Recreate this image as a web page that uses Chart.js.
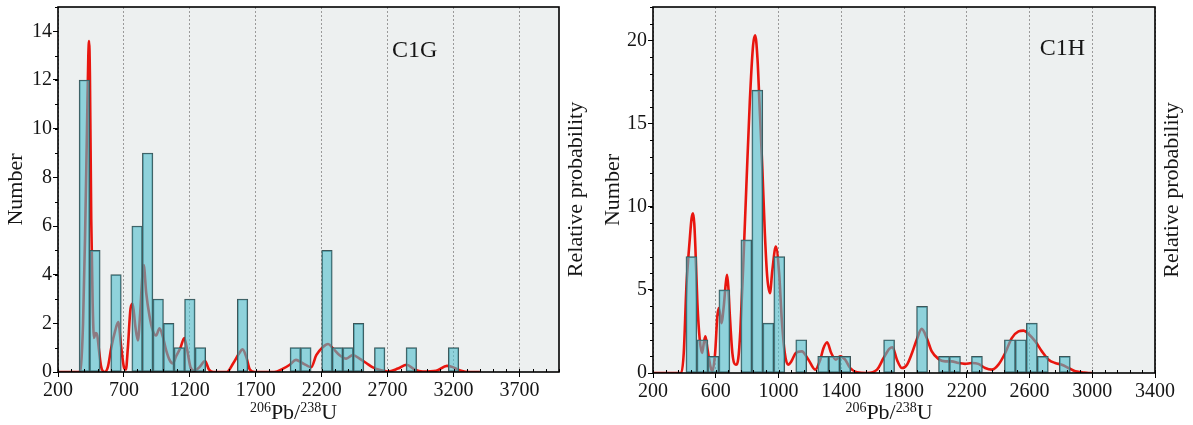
<!DOCTYPE html>
<html><head><meta charset="utf-8">
<script src="https://cdn.jsdelivr.net/npm/chart.js@4.4.1/dist/chart.umd.min.js"></script>
<style>
html,body{margin:0;padding:0;background:#fff;}
#wrap{position:relative;width:1193px;height:425px;overflow:hidden;background:#fff;}
canvas{position:absolute;top:0;}
</style></head><body>
<div id="wrap">
<canvas id="c1" width="597" height="425" style="left:0"></canvas>
<canvas id="c2" width="596" height="425" style="left:597px"></canvas>
</div>
<script>
// ---------- C1G ----------
const binCentersG = [400,480,560,640,720,800,880,960,1040,1120,1200,1280,1360,1440,1520,1600,1680,1760,1840,1920,2000,2080,2160,2240,2320,2400,2480,2560,2640,2720,2800,2880,2960,3040,3120,3200];
const countsG     = [12,5,0,4,0,6,9,3,2,1,3,1,0,0,0,3,0,0,0,0,1,1,0,5,1,1,2,0,1,0,0,1,0,0,0,1];
const curveXG = [200,300,360,375,390,405,420,430,436,442,452,463,473,486,498,513,528,553,578,604,634,657,680,700,715,730,750,766,786,806,823,838,850,869,894,919,944,970,995,1020,1046,1071,1096,1129,1158,1180,1205,1235,1273,1315,1345,1380,1480,1528,1573,1600,1629,1655,1692,1840,1907,1958,2005,2050,2083,2121,2159,2210,2248,2286,2336,2386,2437,2487,2538,2588,2651,2702,2778,2845,2904,2967,3068,3150,3194,3258,3320,3400];
const curveYG = [0,0,0,0.3,2,5.5,10,13,13.6,12.2,6.3,2.8,1.4,1.6,1.5,0.8,0.2,0,0.2,1.0,1.7,2.05,1.0,0.2,0.1,1.0,2.6,2.8,1.9,1.3,2.4,3.8,4.4,3.25,2.3,1.7,1.5,1.8,1.45,0.9,0.5,0.35,0.65,1.0,1.4,0.9,0.2,0.05,0.2,0.45,0.1,0,0,0.35,0.76,0.93,0.6,0.1,0,0,0.14,0.3,0.5,0.38,0.28,0.2,0.69,1.03,1.15,0.97,0.69,0.55,0.7,0.55,0.37,0.19,0.07,0.02,0.14,0.3,0.1,0.02,0.05,0.25,0.2,0.05,0,0];
const xTicksG = [200,700,1200,1700,2200,2700,3200,3700];
const yTicksG = [0,2,4,6,8,10,12,14];

// ---------- C1H ----------
const binCentersH = [445,515,585,655,725,795,865,935,1005,1075,1145,1215,1285,1355,1425,1495,1565,1635,1705,1775,1845,1915,1985,2055,2125,2195,2265,2335,2405,2475,2545,2615,2685,2755,2825];
const countsH     = [7,2,1,5,0,8,17,3,7,0,2,0,1,1,1,0,0,0,2,0,0,4,0,1,1,0,1,0,0,2,2,3,1,0,1];
const curveXH = [200,300,380,396,413,434,446,455,463,470,483,498,513,524,534,545,555,566,578,596,610,620,636,652,664,672,680,689,706,728,744,757,774,795,817,838,851,866,881,897,913,928,945,961,983,1004,1021,1040,1061,1082,1110,1149,1191,1234,1266,1287,1310,1336,1366,1393,1425,1457,1500,1564,1628,1670,1706,1727,1755,1787,1819,1851,1881,1913,1945,1977,2019,2062,2104,2147,2189,2232,2274,2317,2360,2402,2445,2487,2530,2562,2594,2637,2679,2722,2764,2806,2849,2892,2934,2977,3000];
const curveYH = [0,0,0,1.2,5.2,8.0,9.3,9.6,9.0,7.6,4.2,2.0,1.2,1.8,2.2,1.6,1.0,0.4,0.1,1.2,3.4,3.9,3.0,4.1,5.4,5.9,5.2,3.6,1.2,0.5,0.9,2.6,6.2,11.2,16.3,19.7,20.3,18.9,15.7,12.3,8.4,5.8,4.8,6.2,7.6,6.0,3.2,1.2,0.5,0.7,1.2,1.3,0.8,0.2,0.8,1.5,1.85,1.2,0.8,1.0,0.8,0.3,0.05,0,0.2,0.9,1.45,1.55,0.8,0.3,0.5,1.2,2.0,2.65,2.1,1.3,0.85,0.7,0.7,0.6,0.55,0.6,0.55,0.3,0.2,0.5,1.2,2.1,2.5,2.55,2.35,1.9,1.3,0.8,0.6,0.5,0.3,0.1,0.05,0,0];
const xTicksH = [200,600,1000,1400,1800,2200,2600,3000,3400];
const yTicksH = [0,5,10,15,20];

const SERIF = "'Liberation Serif','Times New Roman',serif";
const TXT = '#151515';

const framePlugin = {
  id: 'frame',
  beforeDraw(chart) {
    const {ctx, chartArea: a} = chart;
    ctx.save();
    ctx.fillStyle = '#edf0f0';
    ctx.fillRect(a.left, a.top, a.right - a.left, a.bottom - a.top);
    ctx.restore();
  },
  afterDraw(chart, args, o) {
    const {ctx, chartArea: a} = chart;
    const xs = chart.scales.x, ys = chart.scales.y;
    ctx.save();
    ctx.strokeStyle = '#000'; ctx.lineWidth = 1;
    ctx.beginPath();
    for (let v = xs.min; v <= xs.max + 1e-6; v += o.xMinor) {
      const px = Math.round(xs.getPixelForValue(v)) + 0.5;
      ctx.moveTo(px, a.bottom); ctx.lineTo(px, a.bottom - 3);
    }
    for (let v = ys.min; v <= ys.max + 1e-6; v += o.yMinor) {
      const py = Math.round(ys.getPixelForValue(v)) + 0.5;
      ctx.moveTo(a.left, py); ctx.lineTo(a.left - 3, py);
    }
    ctx.stroke();
    ctx.lineWidth = 1.6;
    ctx.strokeRect(a.left, a.top, a.right - a.left, a.bottom - a.top);
    ctx.fillStyle = TXT;
    // panel label
    ctx.font = "24px " + SERIF;
    ctx.textAlign = 'center'; ctx.textBaseline = 'middle';
    ctx.fillText(o.label, xs.getPixelForValue(o.lx), ys.getPixelForValue(o.ly));
    // right-hand title, reading bottom to top
    ctx.save();
    ctx.translate(chart.width - o.rightTitleInset, (a.top + a.bottom) / 2);
    ctx.rotate(-Math.PI / 2);
    ctx.font = "22px " + SERIF;
    ctx.fillText(o.rightTitle, 0, 0);
    ctx.restore();
    // x axis title with superscripts
    const big = "22px " + SERIF, small = "14px " + SERIF;
    const parts = [['206', small, -7], ['Pb/', big, 0], ['238', small, -7], ['U', big, 0]];
    let w = 0;
    parts.forEach(p => { ctx.font = p[1]; w += ctx.measureText(p[0]).width; });
    let x = (a.left + a.right) / 2 + o.titleShift - w / 2;
    ctx.textAlign = 'left'; ctx.textBaseline = 'alphabetic';
    parts.forEach(p => { ctx.font = p[1]; ctx.fillText(p[0], x, o.titleBase + p[2]); x += ctx.measureText(p[0]).width; });
    ctx.restore();
  }
};

function noPad(s) { s.paddingTop = 0; s.paddingBottom = 0; s.paddingLeft = 0; s.paddingRight = 0; }

function makeChart(id, cfg) {
  const barData = cfg.centers.map((c, i) => ({x: c, y: cfg.counts[i] === 0 ? null : cfg.counts[i]}));
  const lineData = cfg.cx.map((c, i) => ({x: c, y: cfg.cy[i]}));
  return new Chart(document.getElementById(id), {
    type: 'bar',
    data: {
      datasets: [
        {type: 'bar', data: barData, yAxisID: 'y', order: 0,
         backgroundColor: 'rgba(80,190,205,0.6)', borderColor: '#3c5558', borderWidth: 1,
         borderSkipped: false, barPercentage: 1, categoryPercentage: 1},
        {type: 'line', data: lineData, yAxisID: 'y2', order: 1,
         borderColor: '#e8160f', borderWidth: 2.6, pointRadius: 0, fill: false,
         cubicInterpolationMode: 'monotone'}
      ]
    },
    options: {
      responsive: false, animation: false,
      layout: {padding: {top: 7, left: 0, right: 0, bottom: 0}},
      plugins: {legend: {display: false}, tooltip: {enabled: false},
        frame: {xMinor: cfg.xMinor, yMinor: 1, label: cfg.label, lx: cfg.lx, ly: cfg.ly, titleShift: -15, titleBase: 419,
                rightTitle: 'Relative probability', rightTitleInset: 21}},
      scales: {
        x: {type: 'linear', min: cfg.xmin, max: cfg.xmax, offset: false,
            afterBuildTicks: s => { s.ticks = cfg.xticks.map(v => ({value: v})); },
            afterFit: s => { s.height = cfg.xh; noPad(s); },
            ticks: {font: {family: SERIF, size: 20}, color: TXT, padding: 2, maxRotation: 0, autoSkip: false, callback: v => String(v)},
            grid: {offset: false, drawOnChartArea: true, color: '#9a9a9a', lineWidth: 1, tickLength: 5, tickColor: '#000', tickWidth: 1},
            border: {display: false, dash: [2, 2]}},
        y: {type: 'linear', position: 'left', min: 0, max: cfg.ymax,
            afterBuildTicks: s => { s.ticks = cfg.yticks.map(v => ({value: v})); },
            afterFit: s => { s.width = cfg.yw; noPad(s); },
            ticks: {font: {family: SERIF, size: 20}, color: TXT, padding: 1, callback: v => String(v)},
            grid: {drawOnChartArea: false, tickLength: 5, tickColor: '#000', tickWidth: 1},
            border: {display: false},
            title: {display: true, text: 'Number', font: {family: SERIF, size: 22}, color: TXT, padding: {top: 3, bottom: 0}}},
        y2: {type: 'linear', position: 'right', min: 0, max: cfg.ymax,
             afterFit: s => { s.width = cfg.y2w; noPad(s); },
             ticks: {display: false}, grid: {display: false, drawTicks: false}, border: {display: false},
             title: {display: false}}
      }
    },
    plugins: [framePlugin]
  });
}

makeChart('c1', {centers: binCentersG, counts: countsG, cx: curveXG, cy: curveYG, xticks: xTicksG, yticks: yTicksG,
  xmin: 200, xmax: 4000, ymax: 15, xMinor: 100, yw: 58, y2w: 38, xh: 53, label: 'C1G', lx: 2905, ly: 13.2});
makeChart('c2', {centers: binCentersH, counts: countsH, cx: curveXH, cy: curveYH, xticks: xTicksH, yticks: yTicksH,
  xmin: 200, xmax: 3400, ymax: 22, xMinor: 80, yw: 56, y2w: 38, xh: 52, label: 'C1H', lx: 2810, ly: 19.5});
</script>
</body></html>
